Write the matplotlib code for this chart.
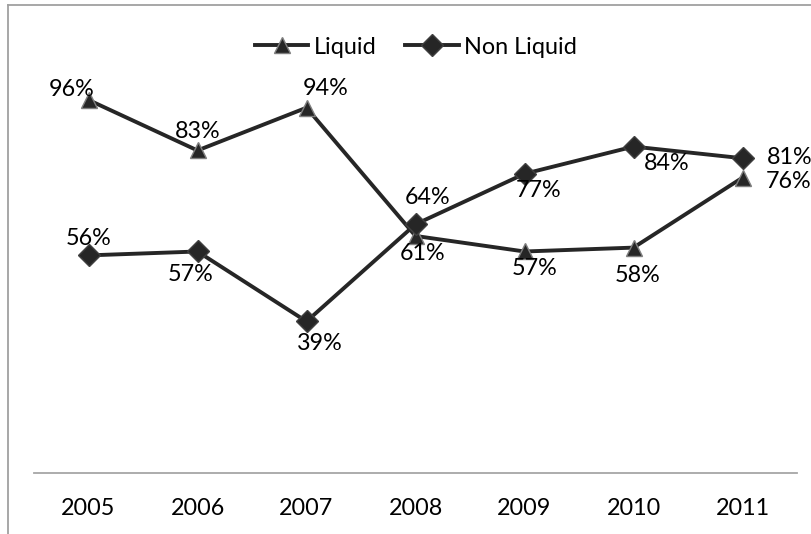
import matplotlib
matplotlib.use('Agg')
import matplotlib.pyplot as plt
from matplotlib.lines import Line2D

plt.rcParams['font.family'] = ['Lato', 'DejaVu Sans']

years = ['2005', '2006', '2007', '2008', '2009', '2010', '2011']
liquid = [96, 83, 94, 61, 57, 58, 76]
non_liquid = [56, 57, 39, 64, 77, 84, 81]

# label offsets (pixels) picked to sit where the original labels are
liquid_off = [(-17, 10), (0, 19), (19, 19), (7, -18), (10, -17), (4, -28), (46, -4)]
non_liquid_off = [(0, 17), (-7, -23), (13, -22), (12, 27), (14, -17), (33, -17), (47, 1)]

W, H = 811, 534
fig = plt.figure(figsize=(W / 100, H / 100), dpi=100)
ax = fig.add_axes([34 / W, 61 / H, (797 - 34) / W, (449.6 - 61) / H])

x = range(len(years))
col = '#262626'
ax.plot(x, liquid, color=col, lw=2.8, marker='^', ms=11,
        mfc=col, mec='#7f7f7f', mew=1, label='Liquid', clip_on=False)
ax.plot(x, non_liquid, color=col, lw=2.8, marker='D', ms=11,
        mfc=col, mec='#404040', mew=1, label='Non Liquid', clip_on=False)

fs = 16.8
for i, v in enumerate(liquid):
    ax.annotate(f'{v}%', (i, v), xytext=liquid_off[i], textcoords='offset pixels',
                ha='center', va='center', fontsize=fs, annotation_clip=False)
for i, v in enumerate(non_liquid):
    ax.annotate(f'{v}%', (i, v), xytext=non_liquid_off[i], textcoords='offset pixels',
                ha='center', va='center', fontsize=fs, annotation_clip=False)

ax.set_xlim(-0.5, len(years) - 0.5)
ax.set_ylim(0, 100)
ax.set_xticks(list(x))
ax.set_xticklabels(years, fontsize=fs)
ax.tick_params(axis='x', length=0, pad=18)
ax.set_yticks([])
for s in ['top', 'right', 'left']:
    ax.spines[s].set_visible(False)
ax.spines['bottom'].set_color('#a6a6a6')
ax.spines['bottom'].set_linewidth(1.3)

fig.legend(loc='center', bbox_to_anchor=(416 / W, 1 - 47 / H), ncol=2,
           frameon=False, fontsize=fs, handlelength=2.3, handletextpad=0.25,
           columnspacing=1.2)

# chart frame (only left and top edges fall inside the picture)
fig.add_artist(Line2D([8 / W, 8 / W], [0, 1 - 5 / H], color='#a0a0a0', lw=1.3,
                      transform=fig.transFigure))
fig.add_artist(Line2D([8 / W, 1], [1 - 5 / H, 1 - 5 / H], color='#a0a0a0', lw=1.3,
                      transform=fig.transFigure))

fig.savefig('out.png', dpi=100)
